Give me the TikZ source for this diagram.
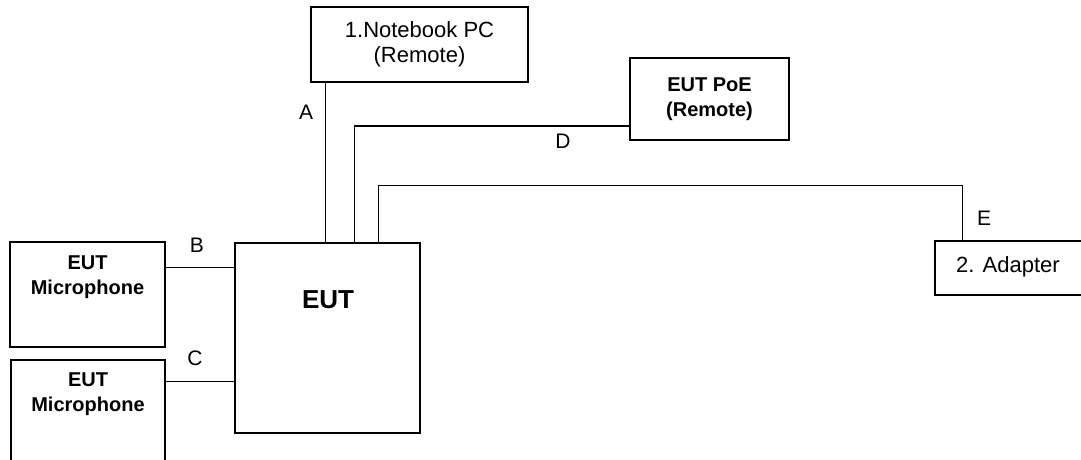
\documentclass[tikz,border=0pt]{standalone}
\usepackage{fontspec}
\setmainfont{Liberation Sans}
\usetikzlibrary{positioning}

\tikzset{
  unitbox/.style={draw, line width=1.4pt, rectangle, inner sep=0pt, align=center},
  cable/.style={line width=1.4pt},
  plain/.style={font=\fontsize{22}{25}\selectfont, align=center, inner sep=0pt},
  bold/.style={font=\fontsize{20}{25}\selectfont\bfseries, align=center, inner sep=0pt},
  tag/.style={font=\fontsize{21}{24}\selectfont, inner sep=0pt}
}

\begin{document}
\begin{tikzpicture}[x=1pt, y=-1pt]
  \useasboundingbox (0,0) rectangle (1081,459);
  \clip (0,0) rectangle (1081,459);
  % units
  \node [unitbox, minimum width=217pt, minimum height=75pt, plain] (nb) at (419.5,44.5) {1.Notebook PC\\(Remote)};
  \node [unitbox, minimum width=159pt, minimum height=82pt, bold] (poe) at (709.5,99) {EUT PoE\\(Remote)};
  \node [unitbox, minimum width=155pt, minimum height=105pt] (mic1) at (87.5,294.5) {};
  \node [unitbox, minimum width=154pt, minimum height=130pt] (mic2) at (88,425) {};
  \node [unitbox, minimum width=185pt, minimum height=190pt] (eut) at (327.5,338) {};
  \node [unitbox, minimum width=165pt, minimum height=54pt] (adp) at (1017.5,268) {};
  % texts inside
  \node [bold] (mic1txt) at (87.5,277.5) {EUT\\Microphone};
  \node [bold] (mic2txt) at (88,394.5) {EUT\\Microphone};
  \node [font=\fontsize{26}{30}\selectfont\bfseries, inner sep=0pt] (euttxt) at (328,300) {EUT};
  \node [plain] (adptxt) at (1008,267) {2. Adapter};
  % cables
  \draw [cable] ([xshift=15pt]nb.south west) -- ([xshift=91pt]eut.north west);
  \draw [cable] ([yshift=-26pt]mic1.north east) -- ([yshift=-26pt]mic1.north east -| eut.west);
  \draw [cable] ([yshift=-22pt]mic2.north east) -- ([yshift=-22pt]mic2.north east -| eut.west);
  \draw [cable] ([yshift=-27pt]poe.west) -| ([xshift=120pt]eut.north west);
  \draw [cable] ([xshift=144pt]eut.north west) |- ([xshift=28pt, yshift=55pt]adp.north west) -- ([xshift=28pt]adp.north west);
  % cable tags
  \node [tag] (tagA) at (306,112) {A};
  \node [tag] (tagB) at (197,245) {B};
  \node [tag] (tagC) at (195,358) {C};
  \node [tag] (tagD) at (563,141) {D};
  \node [tag] (tagE) at (984,218) {E};
\end{tikzpicture}
\end{document}
